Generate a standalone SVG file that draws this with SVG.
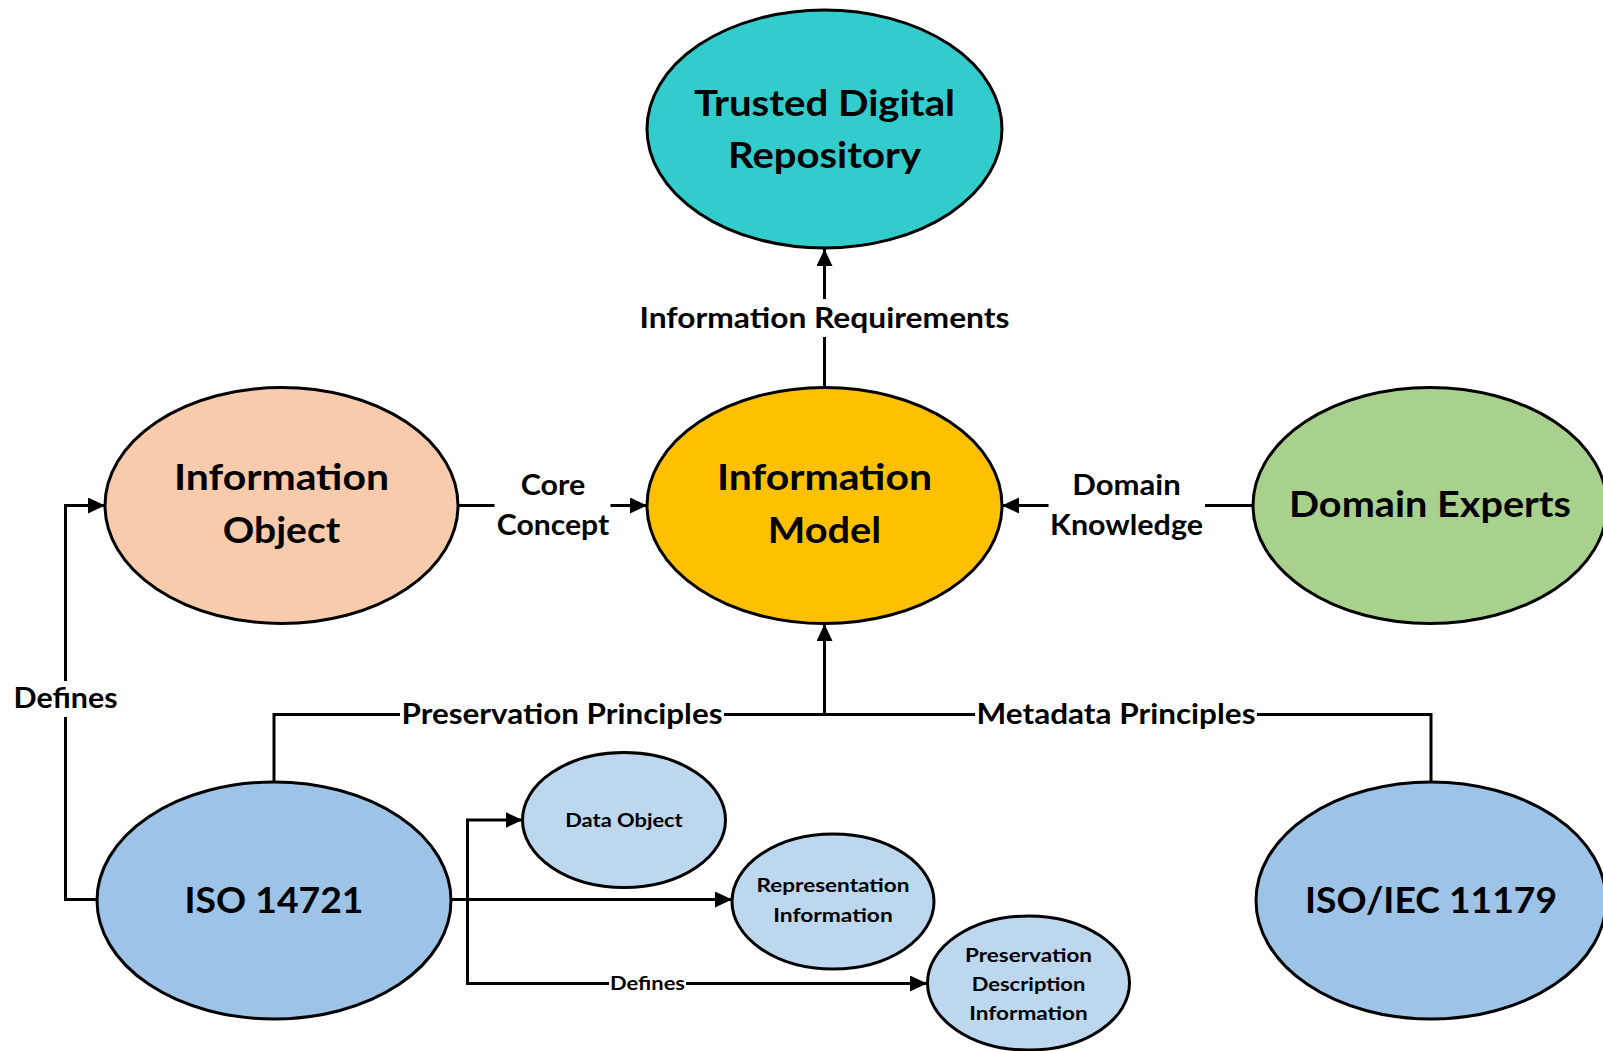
<svg xmlns="http://www.w3.org/2000/svg" width="1603" height="1051" viewBox="0 0 1603 1051">
  <style>
    .node { stroke: #000; stroke-width: 3; }
    .big { font-family: Lato, "Open Sans", "Liberation Sans", sans-serif; font-weight: bold; font-size: 37px; fill: #000; text-anchor: middle; }
    .lbl { font-family: Lato, "Open Sans", "Liberation Sans", sans-serif; font-weight: bold; font-size: 28px; fill: #000; text-anchor: middle; }
    .sm { font-family: Lato, "Open Sans", "Liberation Sans", sans-serif; font-weight: bold; font-size: 19.5px; fill: #000; text-anchor: middle; }
    .xs { font-family: Lato, "Open Sans", "Liberation Sans", sans-serif; font-weight: bold; font-size: 18.5px; fill: #000; text-anchor: middle; }
    .edge { fill: none; stroke: #000; stroke-width: 3; }
    .arrow { marker-end: url(#head); }
  </style>
  <defs>
    <marker id="head" markerUnits="userSpaceOnUse" markerWidth="18" markerHeight="18" refX="17" refY="8" orient="auto">
      <path d="M0,0 L17,8 L0,16 Z" fill="#000"/>
    </marker>
  </defs>
  <rect width="1603" height="1051" fill="#fff"/>

  <!-- connectors -->
  <g id="connectors">
    <!-- Information Model -> Trusted Digital Repository -->
    <path class="edge" d="M824.5,387.5 V337"/>
    <path class="edge arrow" d="M824.5,299 V249"/>
    <text class="lbl" x="824.5" y="328" textLength="370" lengthAdjust="spacingAndGlyphs">Information Requirements</text>

    <!-- Information Object -> Information Model -->
    <path class="edge" d="M458,505.5 H494.5"/>
    <path class="edge arrow" d="M610.5,505.5 H647"/>
    <text class="lbl" x="553" y="494.5" textLength="64.5" lengthAdjust="spacingAndGlyphs">Core</text>
    <text class="lbl" x="553" y="535" textLength="112.5" lengthAdjust="spacingAndGlyphs">Concept</text>

    <!-- Domain Experts -> Information Model -->
    <path class="edge" d="M1253,505.5 H1205"/>
    <path class="edge arrow" d="M1048.5,505.5 H1002"/>
    <text class="lbl" x="1126.5" y="494.5" textLength="108.5" lengthAdjust="spacingAndGlyphs">Domain</text>
    <text class="lbl" x="1126.5" y="535" textLength="153" lengthAdjust="spacingAndGlyphs">Knowledge</text>

    <!-- ISO 14721 / ISO/IEC 11179 -> Information Model -->
    <path class="edge" d="M274,782 V714.5 H400"/>
    <path class="edge" d="M724,714.5 H975"/>
    <path class="edge" d="M1257,714.5 H1431 V782"/>
    <path class="edge arrow" d="M824.5,714.5 V624"/>
    <text class="lbl" x="562" y="723.5" textLength="321" lengthAdjust="spacingAndGlyphs">Preservation Principles</text>
    <text class="lbl" x="1116" y="723.5" textLength="279" lengthAdjust="spacingAndGlyphs">Metadata Principles</text>

    <!-- ISO 14721 -> Information Object -->
    <path class="edge" d="M97,899.5 H65.5 V717"/>
    <path class="edge arrow" d="M65.5,681 V505.5 H105"/>
    <text class="lbl" x="65.5" y="708" textLength="104" lengthAdjust="spacingAndGlyphs">Defines</text>

    <!-- ISO 14721 -> OAIS components -->
    <path class="edge arrow" d="M451.5,899.5 H732"/>
    <path class="edge arrow" d="M467.5,899.5 V820 H522.5"/>
    <path class="edge" d="M467.5,899.5 V983.5 H609"/>
    <path class="edge arrow" d="M686,983.5 H927"/>
    <text class="xs" x="647.5" y="990" textLength="75" lengthAdjust="spacingAndGlyphs">Defines</text>
  </g>

  <g id="trusted-digital-repository">
    <ellipse class="node" cx="824.5" cy="129" rx="177.5" ry="119" fill="#33CCCC"/>
    <text class="big" x="824.5" y="116" textLength="261" lengthAdjust="spacingAndGlyphs">Trusted Digital</text>
    <text class="big" x="824.5" y="168" textLength="193" lengthAdjust="spacingAndGlyphs">Repository</text>
  </g>

  <g id="information-object">
    <ellipse class="node" cx="281.5" cy="505.5" rx="176.5" ry="118" fill="#F8CBAD"/>
    <text class="big" x="281.5" y="490" textLength="215" lengthAdjust="spacingAndGlyphs">Information</text>
    <text class="big" x="281.5" y="543" textLength="117.5" lengthAdjust="spacingAndGlyphs">Object</text>
  </g>

  <g id="information-model">
    <ellipse class="node" cx="824.5" cy="505.5" rx="177.5" ry="118" fill="#FFC000"/>
    <text class="big" x="824.5" y="490" textLength="215" lengthAdjust="spacingAndGlyphs">Information</text>
    <text class="big" x="824.5" y="543" textLength="113.5" lengthAdjust="spacingAndGlyphs">Model</text>
  </g>

  <g id="domain-experts">
    <ellipse class="node" cx="1430" cy="505.5" rx="177" ry="118" fill="#A9D18E"/>
    <text class="big" x="1430" y="517" textLength="282" lengthAdjust="spacingAndGlyphs">Domain Experts</text>
  </g>

  <g id="iso-14721">
    <ellipse class="node" cx="274" cy="900.5" rx="177" ry="118.5" fill="#9DC3E6"/>
    <text class="big" x="274" y="912.5" textLength="179" lengthAdjust="spacingAndGlyphs">ISO 14721</text>
  </g>

  <g id="iso-iec-11179">
    <ellipse class="node" cx="1431" cy="900.5" rx="175" ry="118.5" fill="#9DC3E6"/>
    <text class="big" x="1431" y="912.5" textLength="252" lengthAdjust="spacingAndGlyphs">ISO/IEC 11179</text>
  </g>

  <g id="data-object">
    <ellipse class="node" cx="624" cy="820" rx="101.5" ry="67.5" fill="#BDD7EE"/>
    <text class="sm" x="624" y="827" textLength="117.5" lengthAdjust="spacingAndGlyphs">Data Object</text>
  </g>

  <g id="representation-information">
    <ellipse class="node" cx="833" cy="901.5" rx="101" ry="67.5" fill="#BDD7EE"/>
    <text class="sm" x="833" y="892" textLength="153" lengthAdjust="spacingAndGlyphs">Representation</text>
    <text class="sm" x="833" y="921.5" textLength="119.5" lengthAdjust="spacingAndGlyphs">Information</text>
  </g>

  <g id="preservation-description-information">
    <ellipse class="node" cx="1028.5" cy="983" rx="101" ry="67" fill="#BDD7EE"/>
    <text class="sm" x="1028.5" y="961.5" textLength="127" lengthAdjust="spacingAndGlyphs">Preservation</text>
    <text class="sm" x="1028.5" y="991" textLength="113.5" lengthAdjust="spacingAndGlyphs">Description</text>
    <text class="sm" x="1028.5" y="1019.5" textLength="118.5" lengthAdjust="spacingAndGlyphs">Information</text>
  </g>
</svg>
